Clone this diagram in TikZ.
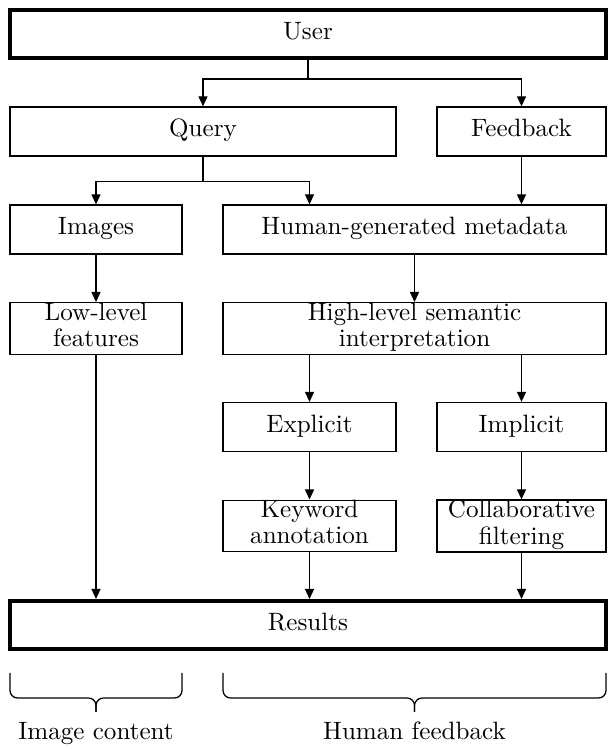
\documentclass[tikz,border=0pt]{standalone}
\usetikzlibrary{arrows.meta}

\newcommand{\pxu}{0.014cm}

\begin{document}
\begin{tikzpicture}[
    x=\pxu, y=\pxu,
    box/.style={
        rectangle, draw=black, line width=0.5pt,
        minimum height=49*\pxu, inner sep=0pt,
        align=center, font=\fontsize{10}{10.5}\selectfont,
        execute at begin node=\strut, execute at end node=\strut
    },
    bigbox/.style={
        box, line width=1.6pt, minimum height=48*\pxu
    },
    arr/.style={-{Triangle[length=4pt, width=3.6pt]}, line width=0.5pt},
    bracel/.style={line width=0.5pt, rounded corners=3pt},
    caption/.style={font=\fontsize{10}{10.5}\selectfont, anchor=base},
]
\useasboundingbox (0,0) rectangle (608,749);

% Nodes
\node[bigbox, minimum width=596*\pxu] (user) at (308,715) {User};
\node[box, minimum width=386*\pxu] (query) at (203,617.5) {Query};
\node[box, minimum width=169*\pxu] (feedback) at (521.5,617.5) {Feedback};

\node[box, minimum width=172*\pxu] (images) at (96,519.5) {Images};
\node[box, minimum width=383*\pxu] (meta) at (414.5,519.5) {Human-generated metadata};

\node[box, minimum width=172*\pxu, minimum height=51*\pxu] (lowlevel) at (96,420.5) {Low-level\\features};
\node[box, minimum width=383*\pxu, minimum height=51*\pxu] (highlevel) at (414.5,420.5) {High-level semantic\\interpretation};

\node[box, minimum width=173*\pxu] (explicit) at (309.5,322) {Explicit};
\node[box, minimum width=169*\pxu] (implicit) at (521.5,322) {Implicit};

\node[box, minimum width=173*\pxu, minimum height=51*\pxu] (keyword) at (309.5,223) {Keyword\\annotation};
\node[box, minimum width=169*\pxu, minimum height=51*\pxu] (collab) at (521.5,223) {Collaborative\\filtering};

\node[bigbox, minimum width=596*\pxu] (results) at (308,124) {Results};

% Arrows
\draw[arr] (user.south) -- ++(0,-19) -| (query.north);
\draw[arr] (user.south) -- ++(0,-19) -| (feedback.north);
\draw[arr] (query.south) -- ++(0,-25) -| (images.north);
\draw[arr] (query.south) -- ++(0,-25) -| (meta.north -| explicit.north);
\draw[arr] (feedback) -- (feedback |- meta.north);
\draw[arr] (images) -- (lowlevel);
\draw[arr] (meta) -- (highlevel);
\draw[arr] (explicit |- highlevel.south) -- (explicit.north);
\draw[arr] (implicit |- highlevel.south) -- (implicit.north);
\draw[arr] (explicit) -- (keyword);
\draw[arr] (implicit) -- (collab);
\draw[arr] (lowlevel) -- (lowlevel |- results.north);
\draw[arr] (keyword) -- (keyword |- results.north);
\draw[arr] (collab) -- (collab |- results.north);

% Braces
\draw[bracel] (10,76) -- (10,51) -- (96,51) -- (96,37);
\draw[bracel] (182,76) -- (182,51) -- (96,51) -- (96,37);
\draw[bracel] (223,76) -- (223,51) -- (414.5,51) -- (414.5,37);
\draw[bracel] (606,76) -- (606,51) -- (414.5,51) -- (414.5,37);

\node[caption] (imgcontent) at (96,9) {Image content};
\node[caption] (humanfb) at (414.5,9) {Human feedback};

\end{tikzpicture}
\end{document}
